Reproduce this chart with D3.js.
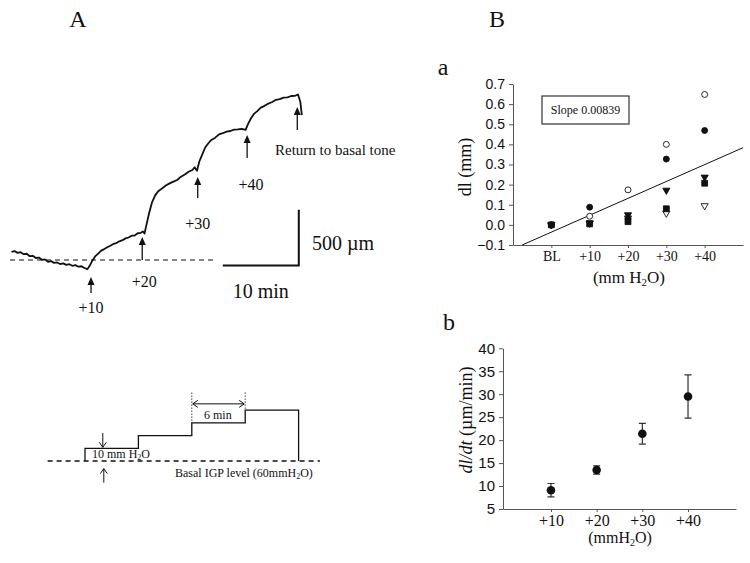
<!DOCTYPE html>
<html><head><meta charset="utf-8">
<script src="https://cdn.jsdelivr.net/npm/d3@7"></script>
<style>body{margin:0;background:#fff}svg{display:block}</style>
</head><body>
<svg id="chart" width="750" height="563"></svg>
<script>
// ---------- DATA ----------
// Panel A: length trace (time in min, length change in µm)
const traceTime = [0.2,0.6,1.0,1.4,1.8,2.2,2.6,3.0,3.4,3.8,4.2,4.6,5.0,5.4,5.8,6.2,6.6,7.0,7.4,7.8,8.2,8.6,9.0,9.4,9.8,10.2,10.5,10.8,11.2,11.6,12.0,12.4,12.8,13.2,13.6,14.0,14.4,14.8,15.2,15.6,16.0,16.4,16.8,17.2,17.5,17.7,17.9,18.3,18.7,19.1,19.5,20.0,20.5,21.0,21.5,22.0,22.5,23.0,23.5,24.0,24.3,24.6,24.9,25.3,25.7,26.1,26.5,27.0,27.5,28.0,28.5,29.0,29.5,30.0,30.5,31.0,31.3,31.7,32.1,32.5,33.0,33.5,34.0,34.5,35.0,35.5,36.0,36.5,37.0,37.5,37.9,38.2,38.4];
const traceLength = [72,80,64,70,52,56,34,38,18,22,2,6,-16,-10,-26,-22,-36,-30,-44,-38,-52,-46,-60,-56,-72,-82,-50,-10,32,58,84,98,114,128,144,152,168,178,194,202,218,220,240,244,256,238,300,420,520,580,618,642,668,688,704,718,748,768,792,808,832,800,882,948,1012,1048,1078,1098,1128,1138,1152,1158,1170,1172,1178,1168,1218,1270,1312,1334,1368,1384,1404,1418,1438,1444,1458,1460,1472,1474,1486,1420,1300];
const stepLabels = ["+10","+20","+30","+40","Return to basal tone"];
const stepTimes = [10.66,17.4,24.7,31.2,37.8];
const arrowTip = [-153,206,745,1122,1373];
const arrowTail = [-296,0,557,916,1167];

// Panel A lower: pressure protocol (min, mmH2O)
const protocolTime = [-4.2,0,0,6,6,12,12,18,18,24,24,26.4];
const protocolPressure = [60,60,70,70,80,80,90,90,100,100,60,60];

// Panel B a: dl (mm) per animal
const catsA = ["BL","+10","+20","+30","+40"];
const openCircle   = [0,0.043,0.174,0.400,0.648];
const filledCircle = [0,0.088,0.032,0.327,0.469];
const filledTri    = [0,0.008,0.050,0.172,0.237];
const filledSquare = [0,0.005,0.016,0.080,0.207];
const openTri      = [0,0.010,0.034,0.058,0.095];
const slope = 0.0839, intercept = -0.12;
const yTicksA = [-0.1,0,0.1,0.2,0.3,0.4,0.5,0.6,0.7];

// Panel B b: dl/dt (µm/min)
const catsB = ["+10","+20","+30","+40"];
const rate = [9.1,13.5,21.4,29.5];
const rateErr = [1.45,0.9,2.25,4.7];
const yTicksB = [5,10,15,20,25,30,35,40];

// ---------- DRAW ----------
const svg = d3.select("#chart");
const serif = "'Liberation Serif','Times New Roman',serif";
const sans = "'Liberation Sans',Arial,sans-serif";
const ink = "#111";

function txt(x,y,s,size,opt={}){
  const t = svg.append("text").attr("x",x).attr("y",y).attr("font-family",opt.font||serif)
    .attr("font-size",size).attr("fill",ink).attr("text-anchor",opt.anchor||"start").text(s);
  if(opt.style) t.attr("font-style",opt.style);
  return t;
}
// Panel letters
txt(78,27,"A",24,{anchor:"middle"});
txt(497,27,"B",24,{anchor:"middle"});
txt(443,75,"a",24,{anchor:"middle"});
txt(449,330,"b",24,{anchor:"middle"});

// ----- Panel A trace -----
const tx = d3.scaleLinear().domain([0,10]).range([10,86]);
const ty = d3.scaleLinear().domain([0,500]).range([260,204.3]);
svg.append("line").attr("x1",tx(0)).attr("x2",tx(27)).attr("y1",ty(0)).attr("y2",ty(0))
  .attr("stroke",ink).attr("stroke-width",1).attr("stroke-dasharray","5,4");
const traceData = traceTime.map((t,i)=>[t,traceLength[i]]);
svg.append("path").attr("d",d3.line().x(d=>tx(d[0])).y(d=>ty(d[1]))(traceData))
  .attr("fill","none").attr("stroke",ink).attr("stroke-width",1.8).attr("stroke-linejoin","round");

function upArrow(x,yTip,yTail){
  svg.append("line").attr("x1",x).attr("x2",x).attr("y1",yTail).attr("y2",yTip+5)
    .attr("stroke",ink).attr("stroke-width",1.3);
  svg.append("path").attr("d",`M${x},${yTip} L${x-3.5},${yTip+8} L${x+3.5},${yTip+8} Z`).attr("fill",ink);
}
stepTimes.forEach((t,i)=>upArrow(tx(t),ty(arrowTip[i]),ty(arrowTail[i])));
txt(tx(stepTimes[0]),313,stepLabels[0],16,{anchor:"middle"});
txt(tx(stepTimes[1])+2,287,stepLabels[1],16,{anchor:"middle"});
txt(tx(stepTimes[2]),229,stepLabels[2],16,{anchor:"middle"});
txt(tx(stepTimes[3])+4,190,stepLabels[3],16,{anchor:"middle"});
txt(275,155,stepLabels[4],15);

// scale bar
svg.append("path").attr("d",`M${tx(28)},${ty(-50)} L${tx(38)},${ty(-50)} L${tx(38)},${ty(450)}`)
  .attr("fill","none").attr("stroke",ink).attr("stroke-width",2);
txt(312,250,"500 µm",20);
txt(tx(33),298,"10 min",20,{anchor:"middle"});

// ----- Panel A protocol -----
const px = d3.scaleLinear().domain([0,6]).range([85,138.4]);
const py = d3.scaleLinear().domain([60,70]).range([461,448.3]);
svg.append("line").attr("x1",px(-4.2)).attr("x2",px(26.4)).attr("y1",py(60)).attr("y2",py(60))
  .attr("stroke",ink).attr("stroke-width",1.3).attr("stroke-dasharray","5,4");
const protoData = protocolTime.map((t,i)=>[t,protocolPressure[i]]).slice(1,11);
svg.append("path").attr("d",d3.line().x(d=>px(d[0])).y(d=>py(d[1]))(protoData))
  .attr("fill","none").attr("stroke",ink).attr("stroke-width",1.3);
[[12,90],[18,100]].forEach(([t,p])=>{
  svg.append("line").attr("x1",px(t)).attr("x2",px(t)).attr("y1",py(114)).attr("y2",py(p))
    .attr("stroke",ink).attr("stroke-width",0.8).attr("stroke-dasharray","1.5,1.5");
});
const ya = py(105);
svg.append("line").attr("x1",px(12)+1).attr("x2",px(18)-1).attr("y1",ya).attr("y2",ya).attr("stroke",ink).attr("stroke-width",1);
svg.append("path").attr("d",`M${px(12)+6},${ya-3.5} L${px(12)+1},${ya} L${px(12)+6},${ya+3.5} M${px(18)-6},${ya-3.5} L${px(18)-1},${ya} L${px(18)-6},${ya+3.5}`)
  .attr("fill","none").attr("stroke",ink).attr("stroke-width",1);
txt(204,419,"6 min",12);
const ax = px(2);
svg.append("path").attr("d",`M${ax},${py(82)} L${ax},${py(70)-1} M${ax-3.5},${py(70)-6} L${ax},${py(70)-1} L${ax+3.5},${py(70)-6}`)
  .attr("fill","none").attr("stroke",ink).attr("stroke-width",1);
svg.append("path").attr("d",`M${ax+1},${py(43)} L${ax+1},${py(54)} M${ax-2.5},${py(54)+5} L${ax+1},${py(54)} L${ax+4.5},${py(54)+5}`)
  .attr("fill","none").attr("stroke",ink).attr("stroke-width",1);
const t1 = txt(92,458,"10 mm H",12);
t1.append("tspan").attr("font-size",8).attr("dy",2).text("2");
t1.append("tspan").attr("dy",-2).text("O");
const t2 = txt(175,477,"Basal IGP level (60mmH",12);
t2.append("tspan").attr("font-size",8).attr("dy",2).text("2");
t2.append("tspan").attr("dy",-2).text("O)");

// ----- Panel B a -----
const axA = d3.scaleLinear().domain([0,6]).range([513,743]);
const ayA = d3.scaleLinear().domain([-0.1,0.7]).range([245,84]);
svg.append("g").attr("transform","translate(513,0)")
  .call(d3.axisLeft(ayA).tickValues(yTicksA).tickFormat(d3.format(".1f")).tickSize(4).tickSizeOuter(0))
  .call(g=>{g.selectAll("text").attr("font-family",sans).attr("font-size",14).attr("fill",ink).attr("dx",-1);
    g.selectAll("line,path").attr("stroke","#555");});
svg.append("g").attr("transform","translate(0,245)")
  .call(d3.axisBottom(axA).tickValues([1,2,3,4,5]).tickFormat((d)=>catsA[d-1]).tickSize(3).tickSizeOuter(0))
  .call(g=>{g.selectAll("text").attr("font-family",serif).attr("font-size",14).attr("fill",ink).attr("y",16).attr("dy",0);
    g.selectAll("line,path").attr("stroke","#555");});
const x0 = (-0.1-intercept)/slope;
svg.append("line").attr("x1",axA(x0)).attr("y1",ayA(-0.1)).attr("x2",axA(6)).attr("y2",ayA(slope*6+intercept))
  .attr("stroke",ink).attr("stroke-width",1);
const series = [
  {v:openTri, sym:d3.symbolTriangle, size:22, fill:"#fff", rot:180},
  {v:filledTri, sym:d3.symbolTriangle, size:22, fill:ink, rot:180},
  {v:openCircle, sym:d3.symbolCircle, size:28, fill:"#fff", rot:0},
  {v:filledCircle, sym:d3.symbolCircle, size:28, fill:ink, rot:0},
  {v:filledSquare, sym:d3.symbolSquare, size:34, fill:ink, rot:0}
];
series.forEach(s=>{
  svg.append("g").selectAll("path").data(s.v).join("path")
    .attr("d",d3.symbol().type(s.sym).size(s.size))
    .attr("transform",(d,i)=>`translate(${axA(i+1)},${ayA(d)}) rotate(${s.rot})`)
    .attr("fill",s.fill).attr("stroke",ink).attr("stroke-width",0.9);
});
svg.append("rect").attr("x",542).attr("y",96).attr("width",87).attr("height",28)
  .attr("fill","#fff").attr("stroke","#333").attr("stroke-width",1.2);
txt(585.5,114,"Slope 0.00839",12,{anchor:"middle"});
txt(0,0,"dl (mm)",18,{anchor:"middle"}).attr("transform","translate(471,167) rotate(-90)");
const la = txt(629,283,"(mm H",17,{anchor:"middle"});
la.append("tspan").attr("font-size",11).attr("dy",3).text("2");
la.append("tspan").attr("dy",-3).text("O)");

// ----- Panel B b -----
const axB = d3.scaleLinear().domain([-0.05,5.05]).range([503,736]);
const ayB = d3.scaleLinear().domain([5,40]).range([509,348.3]);
svg.append("g").attr("transform","translate(503,0)")
  .call(d3.axisLeft(ayB).tickValues(yTicksB).tickSize(4).tickSizeOuter(0))
  .call(g=>{g.selectAll("text").attr("font-family",sans).attr("font-size",15).attr("fill",ink).attr("dx",-1);
    g.selectAll("line,path").attr("stroke","#555");});
svg.append("g").attr("transform","translate(0,509)")
  .call(d3.axisBottom(axB).tickValues([1,2,3,4]).tickFormat(d=>catsB[d-1]).tickSize(3).tickSizeOuter(0))
  .call(g=>{g.selectAll("text").attr("font-family",serif).attr("font-size",16).attr("fill",ink).attr("y",17).attr("dy",0);
    g.selectAll("line,path").attr("stroke","#555");});
const gb = svg.append("g");
rate.forEach((v,i)=>{
  const x = axB(i+1);
  gb.append("path").attr("d",`M${x},${ayB(v+rateErr[i])} L${x},${ayB(v-rateErr[i])} M${x-3.5},${ayB(v+rateErr[i])} L${x+3.5},${ayB(v+rateErr[i])} M${x-3.5},${ayB(v-rateErr[i])} L${x+3.5},${ayB(v-rateErr[i])}`)
    .attr("stroke","#333").attr("stroke-width",1.2).attr("fill","none");
  gb.append("circle").attr("cx",x).attr("cy",ayB(v)).attr("r",4.3).attr("fill",ink);
});
const lb = txt(0,0,"",18,{anchor:"middle"}).attr("transform","translate(472,420) rotate(-90)");
lb.append("tspan").attr("font-style","italic").text("dl/dt");
lb.append("tspan").text(" (µm/min)");
const lx = txt(620,543,"(mmH",16,{anchor:"middle"});
lx.append("tspan").attr("font-size",10).attr("dy",3).text("2");
lx.append("tspan").attr("dy",-3).text("O)");
</script>
</body></html>
